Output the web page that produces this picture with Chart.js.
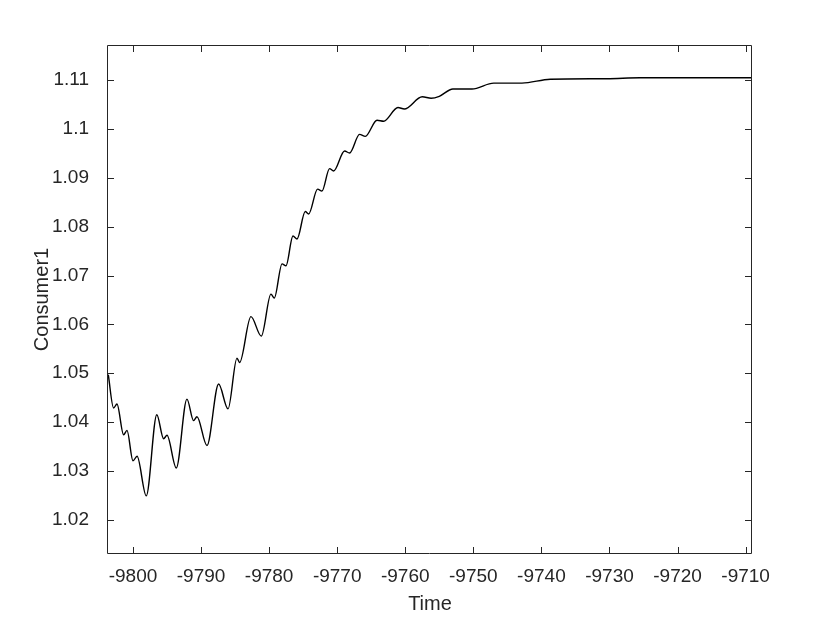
<!DOCTYPE html>
<html>
<head>
<meta charset="utf-8">
<script src="https://cdn.jsdelivr.net/npm/chart.js@4.4.0/dist/chart.umd.min.js"></script>
<style>
  html, body { margin: 0; padding: 0; background: #ffffff; }
  #c { display: block; }
</style>
</head>
<body>
<canvas id="c" width="830" height="623"></canvas>
<script>
// ---- data ----
const times = [
  -9803.63, -9802.85, -9802.35, -9801.38, -9800.88, -9800.0, -9799.4, -9798.05,
  -9796.5, -9795.5, -9795.0, -9793.64, -9792.07, -9791.1, -9790.6, -9789.13,
  -9787.42, -9786.04, -9784.72, -9784.34, -9782.67, -9781.15, -9779.73, -9779.24,
  -9778.1, -9777.52, -9776.5, -9775.9, -9774.69, -9774.2, -9772.88, -9772.24,
  -9771.12, -9770.53, -9768.91, -9768.18, -9766.71, -9765.87, -9764.15, -9763.18,
  -9761.07, -9760.14, -9757.5, -9756.2, -9755.0, -9753.0, -9750.2, -9747.0,
  -9742.85, -9738.7, -9730.4, -9725.5, -9709.1
];
const consumer1 = [
  1.0497, 1.0429, 1.0437, 1.0374, 1.0383, 1.0321, 1.0330, 1.0249,
  1.0415, 1.0366, 1.0373, 1.0306, 1.0447, 1.0403, 1.0411, 1.0352,
  1.0478, 1.0427, 1.0531, 1.0522, 1.0616, 1.0576, 1.0662, 1.0654,
  1.0724, 1.0720, 1.0781, 1.0775, 1.0831, 1.0826, 1.0877, 1.0873,
  1.0919, 1.0914, 1.0955, 1.0951, 1.0989, 1.0985, 1.1018, 1.1016,
  1.1044, 1.1041, 1.1066, 1.1063, 1.1067, 1.1082, 1.1082, 1.1094,
  1.1094, 1.1102, 1.1103, 1.1105, 1.1105
];
const xRange = [-9803.67, -9709.06];
const yRange = [1.0130, 1.1172];
const xStep = 10;
const yStep = 0.01;
const xTitle = 'Time';
const yTitle = 'Consumer1';

const points = times.map((t, i) => ({ x: t, y: consumer1[i] }));
const axisColor = '#262626';
const fontFamily = 'Liberation Sans, Arial, Helvetica, sans-serif';

const boxTicks = {
  id: 'boxTicks',
  afterDraw(chart) {
    const { ctx, chartArea: a, scales: { x, y } } = chart;
    const L = Math.round(a.left) - 0.5, R = Math.round(a.right) - 0.5;
    const T = Math.round(a.top) + 0.5, B = Math.round(a.bottom) - 0.5;
    const len = 6.5;
    ctx.save();
    ctx.strokeStyle = axisColor;
    ctx.lineWidth = 1;
    ctx.beginPath();
    ctx.rect(L, T, R - L, B - T);
    x.ticks.forEach(t => {
      const px = Math.round(x.getPixelForValue(t.value)) + 0.5;
      ctx.moveTo(px, B); ctx.lineTo(px, B - len);
      ctx.moveTo(px, T); ctx.lineTo(px, T + len);
    });
    y.ticks.forEach(t => {
      const py = Math.round(y.getPixelForValue(t.value)) + 0.5;
      ctx.moveTo(L, py); ctx.lineTo(L + len, py);
      ctx.moveTo(R, py); ctx.lineTo(R - len, py);
    });
    ctx.stroke();
    ctx.restore();
  }
};

new Chart(document.getElementById('c'), {
  type: 'line',
  data: {
    datasets: [{
      data: points,
      borderColor: '#000000',
      borderWidth: 1.4,
      pointRadius: 0,
      fill: false,
      cubicInterpolationMode: 'monotone'
    }]
  },
  options: {
    responsive: false,
    animation: false,
    devicePixelRatio: 1,
    layout: { padding: { left: 0, right: 78, top: 45, bottom: 0 } },
    plugins: { legend: { display: false }, tooltip: { enabled: false } },
    scales: {
      x: {
        type: 'linear',
        min: xRange[0], max: xRange[1],
        grid: { display: false, drawTicks: false },
        border: { display: false },
        ticks: {
          stepSize: xStep, includeBounds: false, padding: 11,
          color: axisColor, font: { family: fontFamily, size: 19 },
          maxRotation: 0, autoSkip: false,
          callback: v => String(Math.round(v))
        },
        title: {
          display: true, text: xTitle, color: axisColor,
          font: { family: fontFamily, size: 20 },
          padding: { top: 0, bottom: 7 }
        },
        afterFit: s => { s.height = 69; }
      },
      y: {
        type: 'linear',
        min: yRange[0], max: yRange[1],
        grid: { display: false, drawTicks: false },
        border: { display: false },
        ticks: {
          stepSize: yStep, includeBounds: false, padding: 19,
          color: axisColor, font: { family: fontFamily, size: 19 },
          autoSkip: false,
          callback: v => String(Number(v.toFixed(2)))
        },
        title: {
          display: true, text: yTitle, color: axisColor,
          font: { family: fontFamily, size: 20 },
          padding: { top: 30, bottom: 0 }
        },
        afterFit: s => { s.width = 108; }
      }
    }
  },
  plugins: [boxTicks]
});
</script>
</body>
</html>
